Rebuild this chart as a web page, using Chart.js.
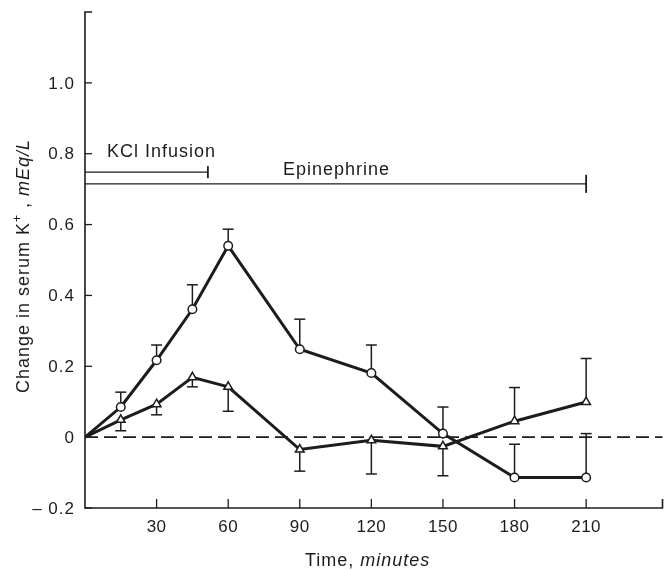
<!DOCTYPE html>
<html>
<head>
<meta charset="utf-8">
<script src="https://cdn.jsdelivr.net/npm/chart.js@4.4.1/dist/chart.umd.min.js"></script>
<style>
  html, body { margin: 0; padding: 0; background: #fff; }
  #wrap { width: 669px; height: 570px; }
</style>
</head>
<body>
<div id="wrap"><canvas id="chart" width="669" height="570"></canvas></div>
<script>
// minutes after start
const times = [0, 15, 30, 45, 60, 90, 120, 150, 180, 210]
// circles: change in serum K+ (mEq/L)
const circleVals = [0, 0.085, 0.217, 0.361, 0.54, 0.248, 0.181, 0.01, -0.114, -0.114]
const circleErr = [null, 0.127, 0.26, 0.43, 0.587, 0.333, 0.26, 0.085, -0.02, 0.01]
// triangles
const triVals = [0, 0.049, 0.093, 0.169, 0.142, -0.035, -0.009, -0.026, 0.045, 0.099]
const triErr = [null, 0.018, 0.063, 0.142, 0.073, -0.096, -0.104, -0.109, 0.14, 0.222]
// treatment bars: [start, end, level]
const kclBar = [0, 51.5, 0.748]
const epiBar = [0, 210, 0.715]
const xTicks = [30, 60, 90, 120, 150, 180, 210]
const yTicks = [-0.2, 0, 0.2, 0.4, 0.6, 0.8, 1.0]
const yLabels = ['\u2013 0.2', '0', '0.2', '0.4', '0.6', '0.8', '1.0']

const ink = '#1c1c1c'
const font = '"Liberation Sans", Arial, Helvetica, sans-serif'

function pts(vals) {
  return times.map((t, i) => ({ x: t, y: vals[i] }))
}

const decor = {
  id: 'decor',
  beforeDatasetsDraw(chart) {
    const { ctx, scales: { x, y }, chartArea: a } = chart
    const right = x.getPixelForValue(x.max)
    ctx.save()
    ctx.strokeStyle = ink
    ctx.fillStyle = ink

    // axes
    ctx.lineWidth = 1.6
    ctx.beginPath()
    ctx.moveTo(a.left + 7, a.top)
    ctx.lineTo(a.left, a.top)
    ctx.lineTo(a.left, a.bottom)
    ctx.lineTo(right, a.bottom)
    ctx.lineTo(right, a.bottom - 9)
    ctx.stroke()

    // inward ticks + labels
    ctx.lineWidth = 1.3
    ctx.letterSpacing = '1px'
    ctx.font = '17px ' + font
    ctx.textAlign = 'right'
    ctx.textBaseline = 'middle'
    yTicks.forEach((v, i) => {
      const py = y.getPixelForValue(v)
      ctx.beginPath(); ctx.moveTo(a.left, py); ctx.lineTo(a.left + 7, py); ctx.stroke()
      ctx.fillText(yLabels[i], 75, py + 1)
    })
    ctx.letterSpacing = '0.5px'
    ctx.textAlign = 'center'
    xTicks.forEach(v => {
      const px = x.getPixelForValue(v)
      ctx.beginPath(); ctx.moveTo(px, a.bottom); ctx.lineTo(px, a.bottom - 9); ctx.stroke()
      ctx.fillText(String(v), px, 527)
    })

    // zero line
    ctx.setLineDash([13, 6])
    ctx.lineWidth = 1.6
    const z = y.getPixelForValue(0)
    ctx.beginPath(); ctx.moveTo(a.left, z); ctx.lineTo(right, z); ctx.stroke()
    ctx.setLineDash([])

    // treatment bars
    ctx.lineWidth = 1.3
    ;[[kclBar, 6], [epiBar, 9]].forEach(([b, h]) => {
      const x0 = x.getPixelForValue(b[0]), x1 = x.getPixelForValue(b[1]), py = y.getPixelForValue(b[2])
      ctx.beginPath(); ctx.moveTo(x0, py); ctx.lineTo(x1, py); ctx.stroke()
      ctx.lineWidth = 1.8
      ctx.beginPath(); ctx.moveTo(x1, py - h); ctx.lineTo(x1, py + h); ctx.stroke()
      ctx.lineWidth = 1.3
    })
    ctx.letterSpacing = '1px'
    ctx.font = '18px ' + font
    ctx.textBaseline = 'alphabetic'
    ctx.textAlign = 'left'
    ctx.fillText('KCl Infusion', 107, 157)
    ctx.fillText('Epinephrine', 283, 175)

    // error bars
    ctx.lineWidth = 1.5
    ;[[circleVals, circleErr], [triVals, triErr]].forEach(([vals, errs]) => {
      times.forEach((t, i) => {
        if (errs[i] === null) return
        const px = x.getPixelForValue(t)
        const p0 = y.getPixelForValue(vals[i]), p1 = y.getPixelForValue(errs[i])
        ctx.beginPath(); ctx.moveTo(px, p0); ctx.lineTo(px, p1); ctx.stroke()
        ctx.beginPath(); ctx.moveTo(px - 5.5, p1); ctx.lineTo(px + 5.5, p1); ctx.stroke()
      })
    })

    // axis titles with italic units
    ctx.font = '18px ' + font
    const t1 = 'Time, '
    const w1 = ctx.measureText(t1).width
    ctx.fillText(t1, 305, 566)
    ctx.font = 'italic 18px ' + font
    ctx.fillText('minutes', 305 + w1, 566)

    ctx.translate(29, 266)
    ctx.rotate(-Math.PI / 2)
    const parts = [['Change in serum K', '18px ', 0], ['+', '12px ', -8], [' , ', '18px ', 0], ['mEq/L', 'italic 18px ', 0]]
    let total = 0
    parts.forEach(p => { ctx.font = p[1] + font; total += ctx.measureText(p[0]).width })
    let cx = -total / 2
    parts.forEach(p => {
      ctx.font = p[1] + font
      ctx.fillText(p[0], cx, p[2])
      cx += ctx.measureText(p[0]).width
    })
    ctx.restore()
  }
}

const lineStyle = {
  borderColor: ink,
  borderWidth: 3,
  pointBackgroundColor: '#fff',
  pointBorderColor: ink,
  pointBorderWidth: 1.5,
  tension: 0
}

new Chart(document.getElementById('chart'), {
  type: 'line',
  data: {
    datasets: [
      Object.assign({ label: 'circles', data: pts(circleVals), pointStyle: 'circle',
        pointRadius: times.map(t => t === 0 ? 0 : 4.3) }, lineStyle),
      Object.assign({ label: 'triangles', data: pts(triVals), pointStyle: 'triangle',
        pointRadius: times.map(t => t === 0 ? 0 : 5) }, lineStyle)
    ]
  },
  options: {
    responsive: false,
    animation: false,
    layout: { padding: { top: 12, right: 0, left: 0, bottom: 0 } },
    plugins: { legend: { display: false }, tooltip: { enabled: false } },
    scales: {
      x: {
        type: 'linear', min: 0, max: 242,
        grid: { display: false, drawTicks: false },
        border: { display: false },
        ticks: { display: false },
        afterFit: s => { s.height = 62 }
      },
      y: {
        min: -0.2, max: 1.2,
        grid: { display: false, drawTicks: false },
        border: { display: false },
        ticks: { display: false },
        afterFit: s => { s.width = 85 }
      }
    }
  },
  plugins: [decor]
})
</script>
</body>
</html>
